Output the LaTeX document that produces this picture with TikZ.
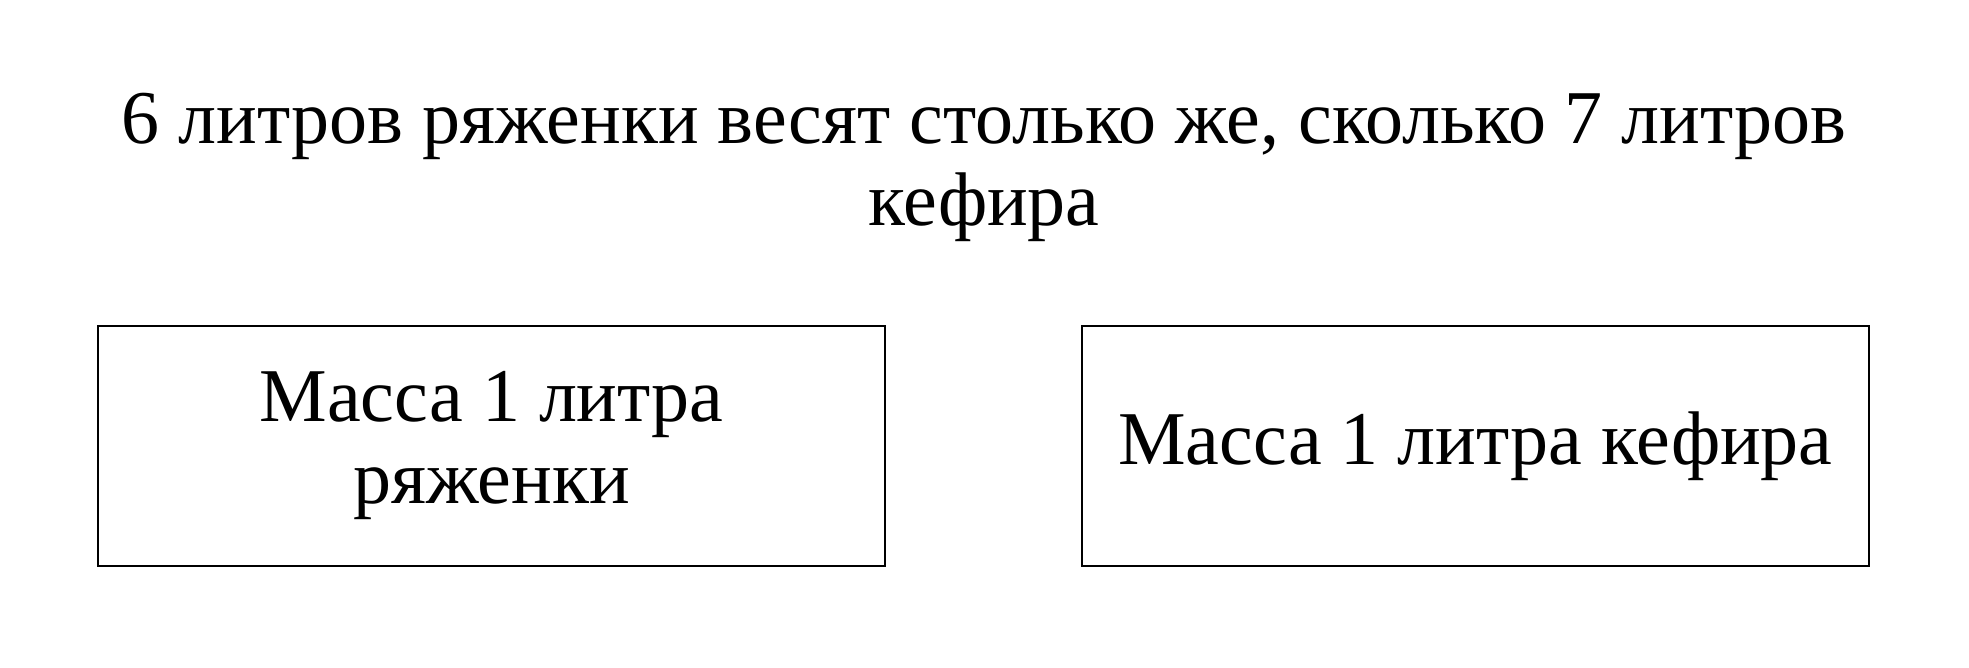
\documentclass[tikz,border=0pt]{standalone}
\usepackage{fontspec}
\setmainfont{Liberation Serif}
\begin{document}
\begin{tikzpicture}[x=0.15pt,y=-0.15pt,
  box/.style={draw,line width=0.4pt,minimum width=787*0.15pt,minimum height=240*0.15pt,inner sep=0pt,align=center,font=\fontsize{11.4}{12.3}\selectfont},
  ttl/.style={align=center,font=\fontsize{11.4}{12.3}\selectfont,inner sep=0pt}]
\useasboundingbox (0,0) rectangle (1969,668);
\node[ttl] (title) at (984,167) {6 литров ряженки весят столько же, сколько 7 литров\\кефира};
\node[box] (left) at (491.5,446) {Масса 1 литра\\ряженки};
\node[box] (right) at (1475.5,446) {Масса 1 литра кефира};
\end{tikzpicture}
\end{document}
